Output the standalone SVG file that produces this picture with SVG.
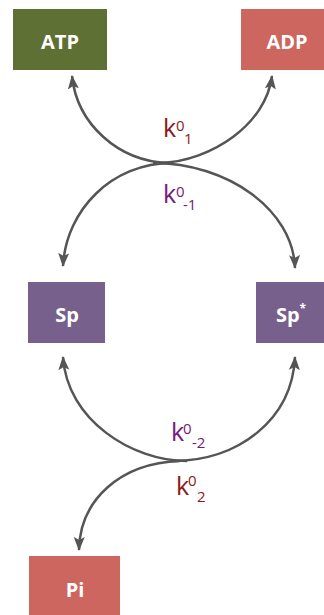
<svg xmlns="http://www.w3.org/2000/svg" width="324" height="615" viewBox="0 0 324 615">
<defs>
<marker id="ah" markerUnits="userSpaceOnUse" markerWidth="16" markerHeight="12" refX="13" refY="5.5" orient="auto">
<path d="M0,0 L14,5.5 L0,11 L3,5.5 z" fill="#555555"/>
</marker>
<style>
.box-text{font-family:"Open Sans","Liberation Sans",sans-serif;font-weight:bold;font-size:20px;fill:#ffffff;text-anchor:middle}
.conn{fill:none;stroke:#555555;stroke-width:2.5;marker-end:url(#ah)}
.lbl{font-family:"Open Sans","Liberation Sans",sans-serif;font-size:25px}
.sm{font-size:15px}
.red{fill:#8b1a1a}
.pur{fill:#761a78}
</style>
</defs>
<rect width="324" height="615" fill="#ffffff"/>
<g id="connectors">
<path class="conn" d="M168,163 C118,161 77,124 72,76"/>
<path class="conn" d="M160,163 C212,161 266,124 272,76"/>
<path class="conn" d="M172,163 C112,163 66,210 63,266"/>
<path class="conn" d="M153,163 C228,163 293,210 295,268"/>
<path class="conn" d="M187,461 C132,461 67,420 63,357"/>
<path class="conn" d="M173,461 C238,461 292,420 295,357"/>
<path class="conn" d="M180,461 C120,463 80,500 79,550"/>
</g>
<g id="node-atp">
<rect x="13" y="9" width="94" height="61" fill="#5f7035"/>
<text class="box-text" x="60" y="49">ATP</text>
</g>
<g id="node-adp">
<rect x="241" y="9" width="83" height="61" fill="#cc665f"/>
<text class="box-text" x="287" y="49">ADP</text>
</g>
<g id="node-sp">
<rect x="28" y="282" width="77" height="61" fill="#77608b"/>
<text class="box-text" x="67" y="322">Sp</text>
</g>
<g id="node-spstar">
<rect x="256" y="282" width="68" height="61" fill="#77608b"/>
<text class="box-text" x="291" y="322">Sp<tspan font-size="12" dy="-9">*</tspan></text>
</g>
<g id="node-pi">
<rect x="29" y="556" width="91" height="59" fill="#cc665f"/>
<text class="box-text" x="75" y="597">Pi</text>
</g>
<g id="labels">
<text class="lbl red" x="163" y="137">k</text>
<text class="lbl sm red" x="176" y="131">0</text>
<text class="lbl sm red" x="184" y="144">1</text>
<text class="lbl pur" x="163" y="203">k</text>
<text class="lbl sm pur" x="176" y="197">0</text>
<text class="lbl sm pur" x="183" y="210">-1</text>
<text class="lbl pur" x="171" y="441">k</text>
<text class="lbl sm pur" x="183" y="434">0</text>
<text class="lbl sm pur" x="192" y="448">-2</text>
<text class="lbl red" x="176" y="495">k</text>
<text class="lbl sm red" x="188" y="486">0</text>
<text class="lbl sm red" x="197" y="502">2</text>
</g>
</svg>
